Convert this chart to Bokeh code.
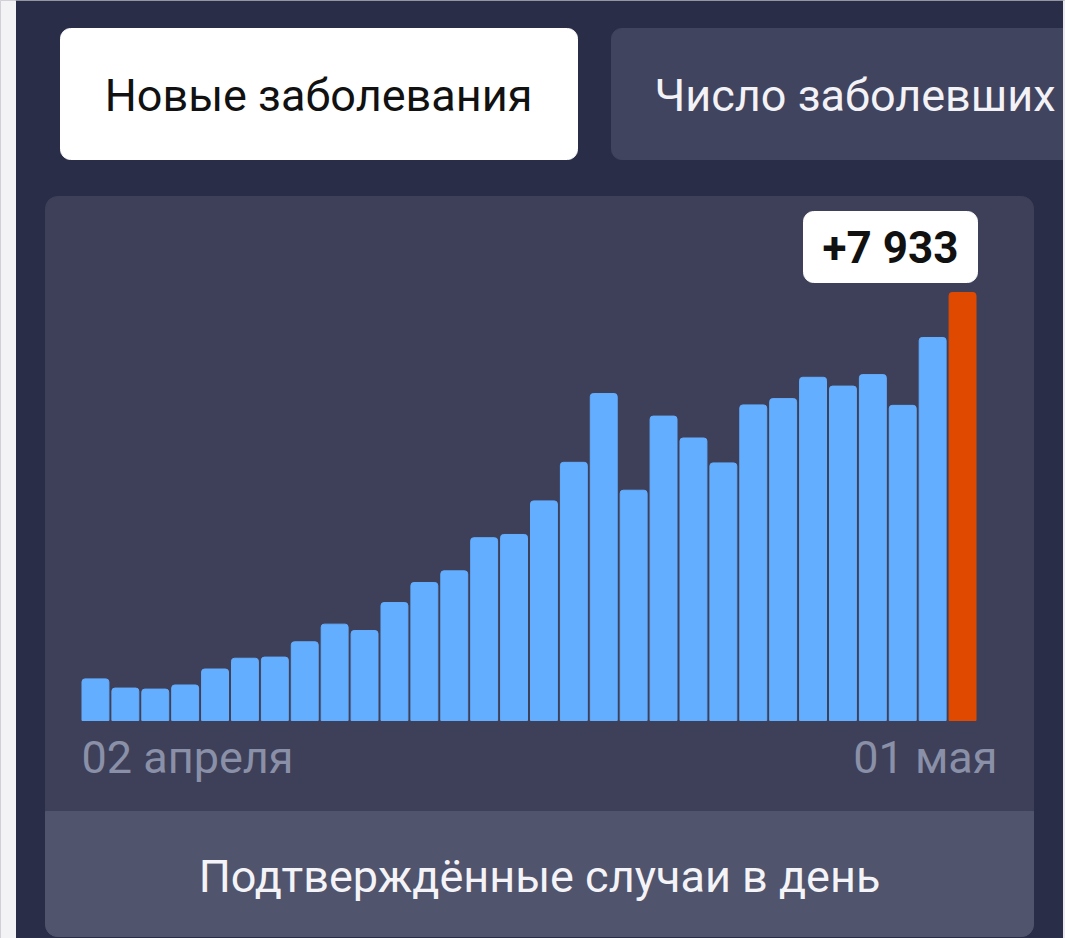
from bokeh.plotting import figure
from bokeh.models import Range1d, ColumnDataSource
from bokeh.core.properties import value
from bokeh.embed import file_html
from bokeh.resources import INLINE

# ---- data ----
days = list(range(30))  # 02 April .. 01 May
cases = [771, 601, 582, 658, 954, 1154, 1175, 1459, 1786, 1667,
         2186, 2558, 2774, 3388, 3448, 4070, 4785, 6060, 4268, 5642,
         5236, 4774, 5849, 5966, 6361, 6198, 6411, 5841, 7099, 7933]
tick_labels = ["02 апреля", "01 мая"]
tab_labels = ["Новые заболевания", "Число заболевших"]
caption = "Подтверждённые случаи в день"

W, H = 1065, 938
NAVY = "#2a2d47"
PANEL = "#3e4059"
FOOT = "#51546d"
TAB2 = "#41445e"
BLUE = "#64aeff"
ORANGE = "#e04a00"
FONT = value("Roboto")
FS = "45px"

p = figure(width=W, height=H, x_range=Range1d(0, W), y_range=Range1d(H, 0),
           output_backend="svg", toolbar_location=None, min_border=0,
           x_axis_location=None, y_axis_location=None)
p.grid.visible = False
p.outline_line_color = None
p.background_fill_color = NAVY
p.border_fill_color = NAVY

# page edges
p.quad(left=0, right=15, top=0, bottom=H, color="#f3f3f6")

# tabs
p.quad(left=60, right=577, top=28, bottom=159, color="white", border_radius=10)
p.quad(left=611, right=1080, top=28, bottom=159, color=TAB2, border_radius=10)
p.quad(left=1063, right=W, top=0, bottom=H, color="#e9e9ee")
p.text(x=[318], y=[95], text=[tab_labels[0]], text_font=FONT, text_font_size=FS,
       text_align="center", text_baseline="middle", text_color="#111111")
p.text(x=[654], y=[95], text=[tab_labels[1]], text_font=FONT, text_font_size=FS,
       text_align="left", text_baseline="middle", text_color="#f2f2f7")

# panel
p.quad(left=45, right=1033, top=196, bottom=936, color=PANEL, border_radius=12)
p.quad(left=45, right=1033, top=811, bottom=936, color=FOOT,
       border_radius=(0, 0, 12, 12))
p.text(x=[539], y=[876], text=[caption], text_font=FONT, text_font_size=FS,
       text_align="center", text_baseline="middle", text_color="#f4f4f8")

# bar area scales (pixel layout of the plotting region)
bar_left_px, pitch_px = 80.0, 29.9
zero_px, top_px = 720.0, 292.0
n = len(days)
s = max(cases) / (zero_px - top_px)
c0 = bar_left_px + pitch_px / 2
p.extra_x_ranges = {"bars": Range1d(-c0 / pitch_px, (W - c0) / pitch_px)}
p.extra_y_ranges = {"bars": Range1d(-(H - zero_px) * s, zero_px * s)}

colors = [BLUE] * (n - 1) + [ORANGE]
src = ColumnDataSource(dict(day=days, cases=cases, color=colors))
p.vbar(x="day", top="cases", bottom=0, width=0.9, source=src, color="color",
       x_range_name="bars", y_range_name="bars", border_radius=(3, 3, 0, 0))

# axis labels
p.text(x=[bar_left_px + 1], y=[757], text=[tick_labels[0]], text_font=FONT,
       text_font_size=FS, text_align="left", text_baseline="middle",
       text_color="#8a90a7")
p.text(x=[997], y=[757], text=[tick_labels[1]], text_font=FONT,
       text_font_size=FS, text_align="right", text_baseline="middle",
       text_color="#8a90a7")

# value badge for the last day
last_txt = "+" + f"{cases[-1]:,}".replace(",", " ")
p.quad(left=803, right=977, top=211, bottom=282, color="white", border_radius=10)
p.text(x=[890], y=[247], text=[last_txt], text_font=FONT, text_font_size="44px",
       text_font_style="bold", text_align="center", text_baseline="middle",
       text_color="#111111")

open("out.html", "w").write(file_html(p, INLINE))
